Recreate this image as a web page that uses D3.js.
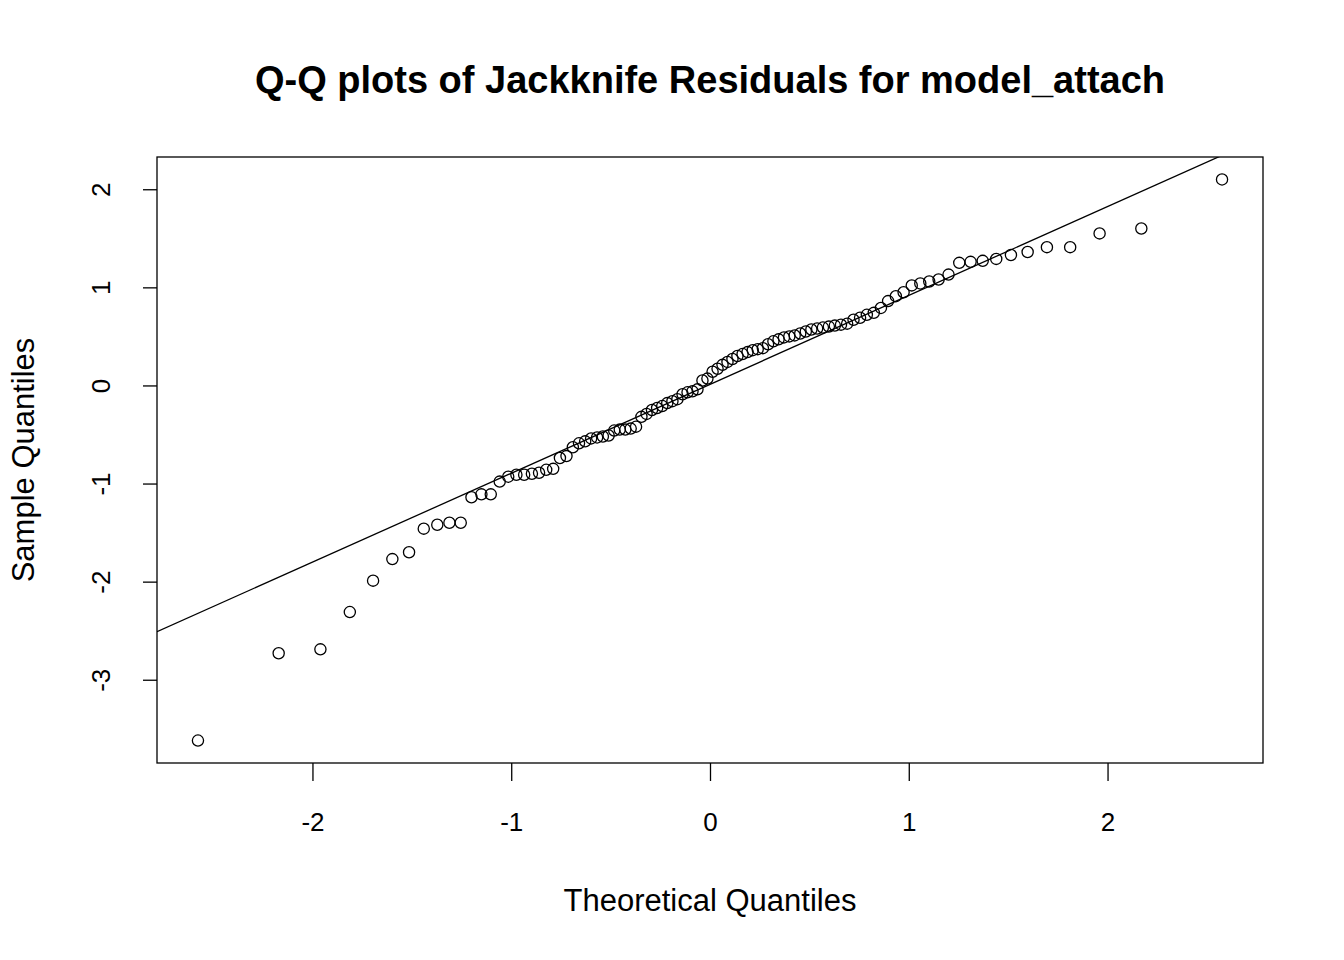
<!DOCTYPE html>
<html>
<head>
<meta charset="utf-8">
<title>Q-Q plot</title>
<style>
  body { margin: 0; background: #fff; }
  text { font-family: "Liberation Sans", Arial, sans-serif; fill: #000; }
</style>
</head>
<body>
<script src="https://d3js.org/d3.v7.min.js"></script>
<script>
// theoretical normal quantiles (x) and sorted jackknife residuals (y)
const theoretical = [-2.576,-2.170,-1.960,-1.812,-1.695,-1.598,-1.514,-1.440,-1.372,-1.311,
  -1.254,-1.200,-1.150,-1.103,-1.058,-1.015,-0.974,-0.935,-0.896,-0.860,
  -0.824,-0.789,-0.755,-0.722,-0.690,-0.659,-0.628,-0.598,-0.568,-0.539,
  -0.510,-0.482,-0.454,-0.426,-0.399,-0.372,-0.345,-0.319,-0.292,-0.266,
  -0.240,-0.215,-0.189,-0.164,-0.138,-0.113,-0.088,-0.063,-0.038,-0.013,
  0.013,0.038,0.063,0.088,0.113,0.138,0.164,0.189,0.215,0.240,
  0.266,0.292,0.319,0.345,0.372,0.399,0.426,0.454,0.482,0.510,
  0.539,0.568,0.598,0.628,0.659,0.690,0.722,0.755,0.789,0.824,
  0.860,0.896,0.935,0.974,1.015,1.058,1.103,1.150,1.200,1.254,
  1.311,1.372,1.440,1.514,1.598,1.695,1.812,1.960,2.170,2.576];
const sample = [-3.62,-2.73,-2.69,-2.31,-1.99,-1.77,-1.70,-1.46,-1.42,-1.40,
  -1.40,-1.14,-1.11,-1.11,-0.98,-0.93,-0.91,-0.91,-0.90,-0.89,
  -0.86,-0.85,-0.74,-0.72,-0.63,-0.59,-0.57,-0.54,-0.53,-0.52,
  -0.51,-0.46,-0.45,-0.45,-0.44,-0.42,-0.32,-0.29,-0.25,-0.23,
  -0.21,-0.18,-0.16,-0.14,-0.09,-0.07,-0.06,-0.04,0.05,0.07,
  0.14,0.17,0.21,0.24,0.27,0.30,0.32,0.34,0.36,0.37,
  0.38,0.42,0.45,0.47,0.49,0.50,0.51,0.53,0.55,0.57,
  0.58,0.59,0.60,0.61,0.62,0.63,0.67,0.69,0.72,0.74,
  0.79,0.86,0.91,0.95,1.02,1.04,1.06,1.08,1.13,1.25,
  1.26,1.27,1.29,1.33,1.36,1.41,1.41,1.55,1.60,2.10];
const xTicks = [-2, -1, 0, 1, 2];
const yTicks = [-3, -2, -1, 0, 1, 2];

const W = 1344, H = 960;
const box = {left: 157, right: 1263, top: 157, bottom: 763};

const svg = d3.select('body').append('svg').attr('width', W).attr('height', H);

// R-style 4% extension
function ext(a) { const lo = d3.min(a), hi = d3.max(a), d = (hi - lo) * 0.04; return [lo - d, hi + d]; }
const x = d3.scaleLinear().domain(ext(theoretical)).range([box.left, box.right]);
const y = d3.scaleLinear().domain(ext(sample)).range([box.bottom, box.top]);

svg.append('defs').append('clipPath').attr('id', 'clip')
  .append('rect').attr('x', box.left).attr('y', box.top)
  .attr('width', box.right - box.left).attr('height', box.bottom - box.top);

// qqline through the quartiles
const q1 = d3.quantile(sample, 0.25), q3 = d3.quantile(sample, 0.75);
const slope = (q3 - q1) / (2 * 0.6744898);
const icpt = q1 + slope * 0.6744898;
const xd = x.domain();
svg.append('line').attr('clip-path', 'url(#clip)')
  .attr('x1', x(xd[0])).attr('y1', y(icpt + slope * xd[0]))
  .attr('x2', x(xd[1])).attr('y2', y(icpt + slope * xd[1]))
  .attr('stroke', '#000').attr('stroke-width', 1.3);

svg.selectAll('circle.pt').data(sample).enter().append('circle')
  .attr('class', 'pt')
  .attr('cx', (d, i) => x(theoretical[i])).attr('cy', d => y(d))
  .attr('r', 5.6).attr('fill', 'none').attr('stroke', '#000').attr('stroke-width', 1.3);

svg.append('rect').attr('x', box.left).attr('y', box.top)
  .attr('width', box.right - box.left).attr('height', box.bottom - box.top)
  .attr('fill', 'none').attr('stroke', '#000').attr('stroke-width', 1.3);

// axes (plain hyphen for minus, like R)
const fmt = d => String(d);
const xa = svg.append('g').attr('transform', 'translate(0,' + box.bottom + ')')
  .call(d3.axisBottom(x).tickValues(xTicks).tickSize(18).tickPadding(32).tickFormat(fmt));
const ya = svg.append('g').attr('transform', 'translate(' + box.left + ',0)')
  .call(d3.axisLeft(y).tickValues(yTicks).tickSize(14).tickFormat(fmt));
[xa, ya].forEach(g => {
  g.select('.domain').remove();
  g.selectAll('line').attr('stroke', '#000').attr('stroke-width', 1.3);
  g.selectAll('text').attr('font-size', 26).attr('font-family', '"Liberation Sans", Arial, sans-serif');
});
ya.selectAll('text').attr('text-anchor', 'middle').attr('x', 0).attr('y', 0).attr('dy', '0.35em')
  .attr('transform', 'translate(-56,0) rotate(-90)');

svg.append('text').attr('x', 710).attr('y', 93).attr('text-anchor', 'middle')
  .attr('font-size', 38).attr('font-weight', 'bold').text('Q-Q plots of Jackknife Residuals for model_attach');
svg.append('text').attr('x', 710).attr('y', 911).attr('text-anchor', 'middle')
  .attr('font-size', 31).text('Theoretical Quantiles');
svg.append('text').attr('transform', 'translate(34,460) rotate(-90)').attr('text-anchor', 'middle')
  .attr('font-size', 31).text('Sample Quantiles');
</script>
</body>
</html>
